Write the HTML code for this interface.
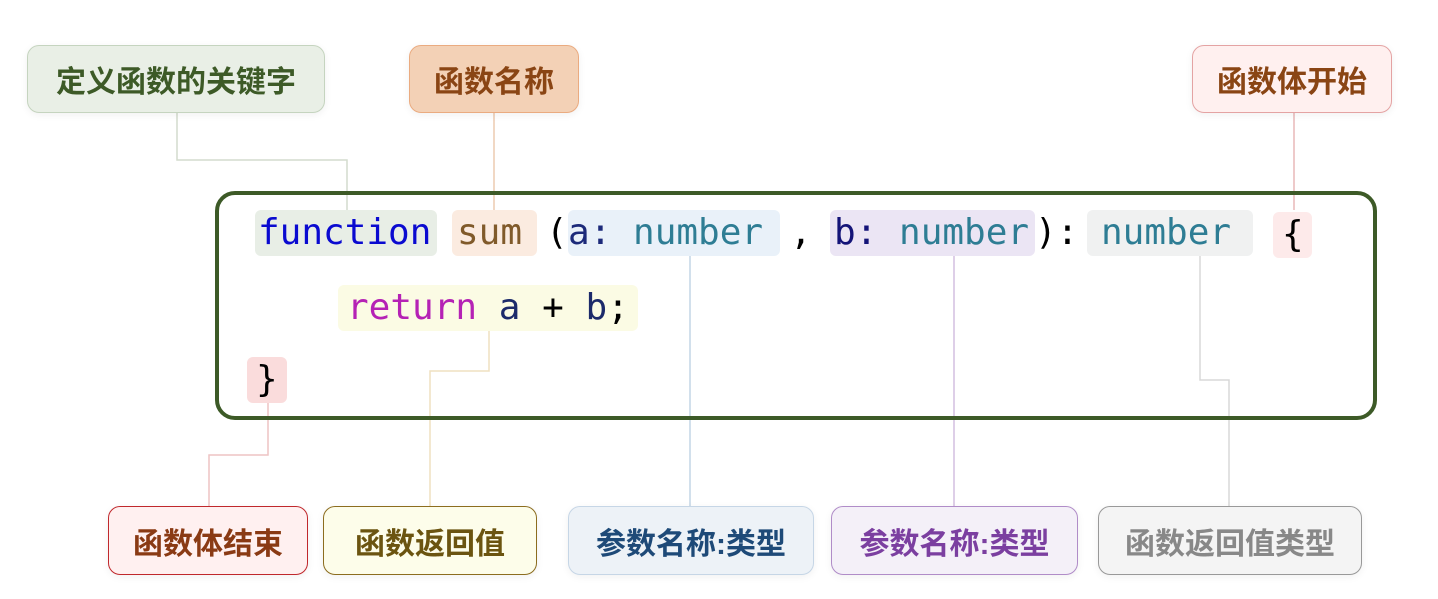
<!DOCTYPE html>
<html><head><meta charset="utf-8"><style>
body{margin:0;width:1438px;height:599px;background:#fff;position:relative;overflow:hidden;font-family:"Liberation Sans","Noto Sans CJK SC",sans-serif}
.lb{position:absolute;box-sizing:border-box;border:1.5px solid;border-radius:12px;font-weight:bold;font-size:30px;display:flex;align-items:center;justify-content:center;box-shadow:0 2px 8px rgba(0,0,0,0.06)}
.t{position:absolute;font-family:"DejaVu Sans Mono","Liberation Mono",monospace;font-size:36px;line-height:46px;height:46px;white-space:pre;border-radius:6px}
.ln{position:absolute}
</style></head><body>
<svg class="ln" width="1438" height="599" style="left:0;top:0" fill="none" stroke-width="1.5">
<polyline points="177,113 177,160 347,160 347,210" stroke="#d3dccd"/>
<polyline points="494,113 494,210" stroke="#eccab0"/>
<polyline points="1294,113 1294,210" stroke="#e8b8b8"/>
<polyline points="268,402 268,455 209,455 209,506" stroke="#eec4c4"/>
<polyline points="489,330 489,371 430,371 430,506" stroke="#efe0c0"/>
<polyline points="690,256 690,506" stroke="#c4d6e6"/>
<polyline points="954,256 954,506" stroke="#d4bfe0"/>
<polyline points="1200,256 1200,380 1229,380 1229,506" stroke="#d8d8d8"/>
</svg>
<div style="position:absolute;left:215px;top:191px;width:1162px;height:229px;box-sizing:border-box;border:4px solid #3d5a27;border-radius:20px"></div>

<div class="t" style="left:255px;top:210px;width:182px;background:#e8eee6;color:#0a0ad0;padding-left:3px;box-sizing:border-box">function</div>
<div class="t" style="left:452px;top:210px;width:85px;background:#fbebe0;color:#805a2a;padding-left:5px;box-sizing:border-box">sum</div>
<div class="t" style="left:546px;top:210px;color:#000">(</div>
<div class="t" style="left:568px;top:210px;width:212px;background:#e9f1f9;color:#1c2a7a;padding-left:0;box-sizing:border-box">a: <span style="color:#2e7d94">number</span></div>
<div class="t" style="left:790px;top:210px;color:#000">,</div>
<div class="t" style="left:830px;top:210px;width:205px;background:#ebe5f4;color:#141478;padding-left:4px;box-sizing:border-box">b: <span style="color:#2e7d94">number</span></div>
<div class="t" style="left:1035px;top:210px;color:#000">):</div>
<div class="t" style="left:1087px;top:210px;width:166px;background:#f0f1f1;color:#2e7d94;padding-left:14px;box-sizing:border-box">number</div>
<div class="t" style="left:1273px;top:212px;width:39px;background:#fdeaea;color:#000;padding-left:9px;box-sizing:border-box">{</div>
<div class="t" style="left:338px;top:285px;width:300px;background:#fbfbe4;color:#b522b5;padding-left:9px;box-sizing:border-box">return <span style="color:#1c2a6a">a</span> <span style="color:#000">+</span> <span style="color:#1c2a6a">b</span><span style="color:#000">;</span></div>
<div class="t" style="left:247px;top:357px;width:40px;background:#fadcdc;color:#000;padding-left:9px;box-sizing:border-box">}</div>

<div class="lb" style="left:27px;top:45px;width:298px;height:68px;background:#e9efe6;border-color:#c5d4bf;color:#3d5a27">定义函数的关键字</div>
<div class="lb" style="left:409px;top:45px;width:170px;height:68px;background:#f3d1b6;border-color:#eaab80;color:#8a4514">函数名称</div>
<div class="lb" style="left:1192px;top:45px;width:200px;height:68px;background:#fff0ef;border-color:#e4a3a3;color:#8a4514">函数体开始</div>

<div class="lb" style="left:108px;top:506px;width:200px;height:69px;background:#fff0f0;border-color:#c0282c;color:#8a3a14">函数体结束</div>
<div class="lb" style="left:323px;top:506px;width:214px;height:69px;background:#fdfdea;border-color:#8c6d1f;color:#6b5410">函数返回值</div>
<div class="lb" style="left:568px;top:506px;width:246px;height:69px;background:#edf2f7;border-color:#c6d6e6;color:#1e4a78">参数名称:类型</div>
<div class="lb" style="left:831px;top:506px;width:247px;height:69px;background:#f4f0f8;border-color:#b08cc8;color:#7b3fa0">参数名称:类型</div>
<div class="lb" style="left:1098px;top:506px;width:264px;height:69px;background:#f4f4f4;border-color:#999;color:#888">函数返回值类型</div>
</body></html>
